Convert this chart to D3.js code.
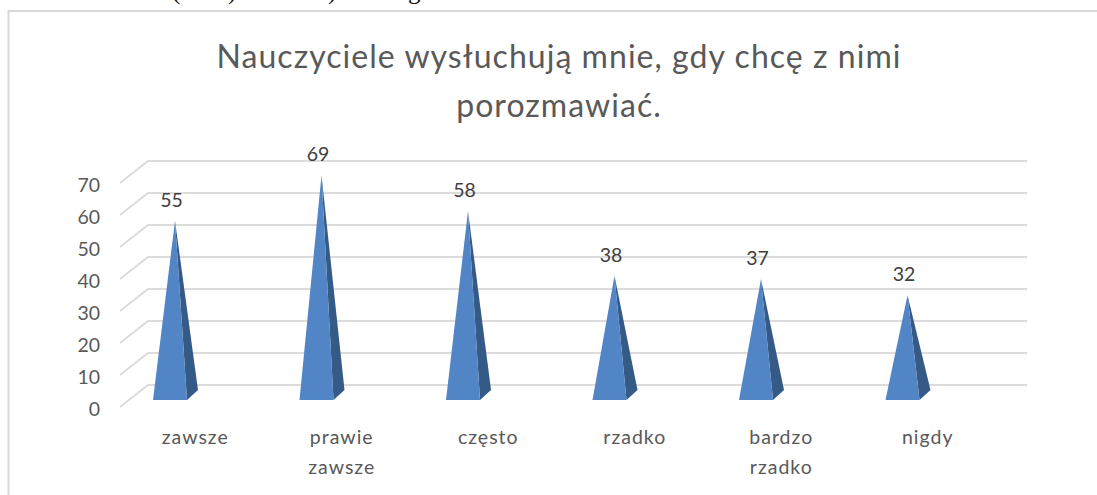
<!DOCTYPE html>
<html>
<head>
    <meta charset="utf-8">
    <style>
        body { margin: 0; background: #fff; }
        svg { display: block; }
        text { font-family: Lato, "Open Sans", sans-serif; }
        .y-axis text { font-size: 19.5px; fill: #595959; }
        .cat-label { font-size: 19.5px; letter-spacing: 1px; fill: #595959; }
        .value-label { font-size: 19.5px; fill: #404040; }
        .title { font-size: 32px; letter-spacing: 1.05px; fill: #595959; }
        .clipped { font-family: "Liberation Serif", serif; font-size: 25px; fill: #111; }
    </style>
    <script src="https://d3js.org/d3.v7.min.js"></script>
</head>
<body>
    <div id="chart"></div>

    <script>
        const categories = ["zawsze", "prawie zawsze", "często", "rzadko", "bardzo rzadko", "nigdy"];
        const values = [55, 69, 58, 38, 37, 32];
        const yTicks = [0, 10, 20, 30, 40, 50, 60, 70];
        const titleLines = ["Nauczyciele wysłuchują mnie, gdy chcę z nimi", "porozmawiać."];
        // only the bottom of the line above the chart is visible in the crop
        const clippedGlyphs = [["(", 172], [")", 228], [")", 328], ["g", 408]];

        const width = 1097, height = 495;

        const svg = d3.select("#chart").append("svg")
            .attr("width", width)
            .attr("height", height);

        // Leftover of the page text above the chart
        svg.selectAll(".clipped")
            .data(clippedGlyphs)
            .enter()
            .append("text")
            .attr("class", "clipped")
            .attr("x", d => d[1])
            .attr("y", -1)
            .text(d => d[0]);

        // Chart frame, cut by the right and bottom of the picture
        svg.append("path")
            .attr("d", `M8.5,${height} V11 H${width}`)
            .attr("fill", "none")
            .attr("stroke", "#d9d9d9")
            .attr("stroke-width", 2);

        const title = svg.append("text")
            .attr("class", "title")
            .attr("text-anchor", "middle");
        title.selectAll("tspan")
            .data(titleLines)
            .enter()
            .append("tspan")
            .attr("x", 559)
            .attr("y", (d, i) => 68 + i * 49)
            .text(d => d);

        // Front edge of the 3D box
        const xScale = d3.scaleBand()
            .domain(categories)
            .range([122, 1001]);
        const yScale = d3.scaleLinear()
            .domain([0, 70])
            .range([407, 183]);
        // Height of the pyramid tips, they stand in the middle of the box depth
        const peakScale = d3.scaleLinear()
            .domain([0, 70])
            .range([399, 172]);

        const depthX = 28, depthY = 22, wallRight = 1027;

        // Gridlines: diagonal on the floor side, then along the back wall
        svg.append("g")
            .selectAll("path")
            .data(yTicks)
            .enter()
            .append("path")
            .attr("d", d => `M120,${yScale(d)} L${120 + depthX},${yScale(d) - depthY} H${wallRight}`)
            .attr("fill", "none")
            .attr("stroke", "#dcdcdc")
            .attr("stroke-width", 2);

        const yAxis = d3.axisLeft(yScale)
            .tickValues(yTicks)
            .tickSize(0)
            .tickPadding(0);
        svg.append("g")
            .attr("class", "y-axis")
            .attr("transform", "translate(100,2.5)")
            .call(yAxis)
            .call(g => g.select(".domain").remove());

        // Pyramids
        const baseY = peakScale(0) + 1;
        const baseLeft = d => xScale(d) + 31;
        const baseWidth = 34, sideX = 11, sideY = 10, peakOffset = 22;

        const bars = svg.append("g")
            .selectAll("g")
            .data(categories.map((c, i) => ({ category: c, value: values[i] })))
            .enter()
            .append("g")
            .attr("class", "bar");

        bars.append("path")
            .attr("fill", "#345a85")
            .attr("d", d => {
                const x = baseLeft(d.category);
                return `M${x + baseWidth},${baseY} L${x + baseWidth + sideX},${baseY - sideY} L${x + peakOffset},${peakScale(d.value)} Z`;
            });
        bars.append("path")
            .attr("fill", "#5285c6")
            .attr("d", d => {
                const x = baseLeft(d.category);
                return `M${x},${baseY} L${x + baseWidth},${baseY} L${x + peakOffset},${peakScale(d.value)} Z`;
            });

        // Values above the tips
        bars.append("text")
            .attr("class", "value-label")
            .attr("text-anchor", "middle")
            .attr("x", d => baseLeft(d.category) + peakOffset - 3.5)
            .attr("y", d => peakScale(d.value) - 14)
            .text(d => d.value);

        // Category labels, long ones wrap on two lines
        const catLabels = svg.append("g")
            .selectAll("text")
            .data(categories)
            .enter()
            .append("text")
            .attr("class", "cat-label")
            .attr("text-anchor", "middle");
        catLabels.selectAll("tspan")
            .data(d => d.split(" ").map(w => ({ word: w, category: d })))
            .enter()
            .append("tspan")
            .attr("x", d => xScale(d.category) + xScale.bandwidth() / 2)
            .attr("y", (d, i) => 444 + i * 30)
            .text(d => d.word);
    </script>
</body>
</html>
